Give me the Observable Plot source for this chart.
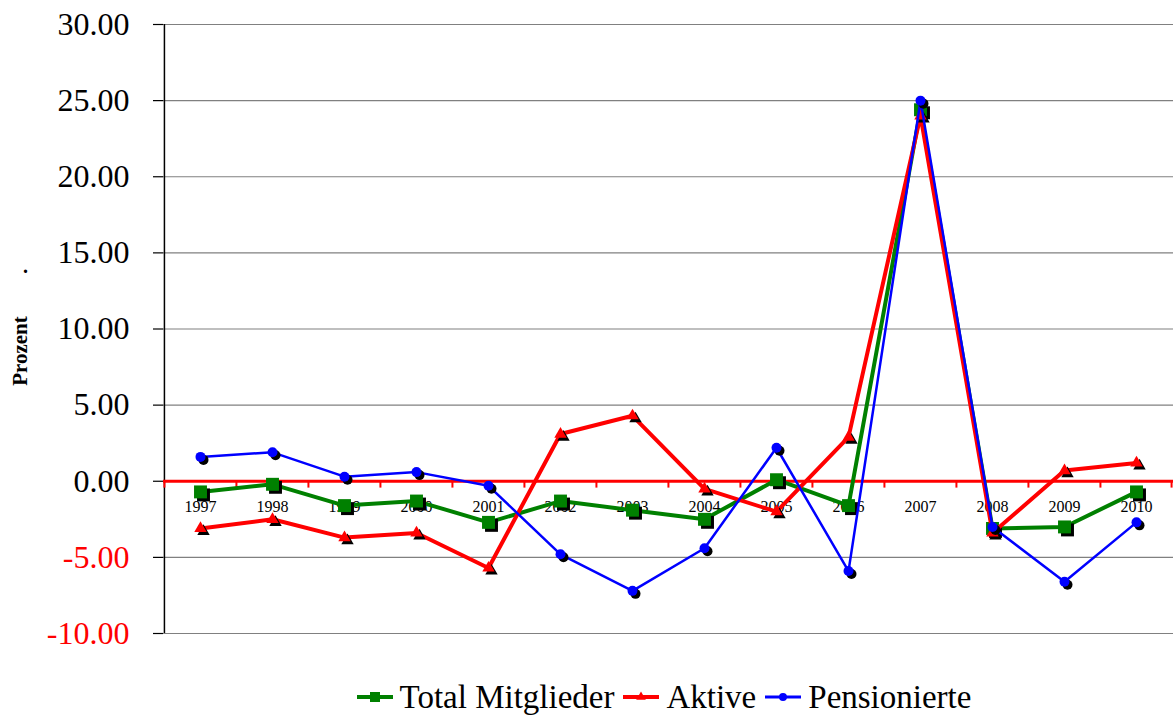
<!DOCTYPE html>
<html>
<head>
<meta charset="utf-8">
<script src="https://cdn.jsdelivr.net/npm/d3@7"></script>
<script src="https://cdn.jsdelivr.net/npm/@observablehq/plot@0.6"></script>
<style>
  html, body { margin: 0; padding: 0; background: #fff; }
  body { width: 1173px; height: 720px; overflow: hidden; font-family: "Liberation Serif", "Times New Roman", Times, serif; }
  #legend { display: flex; justify-content: center; align-items: center; height: 60px; font-size: 33px; color: #000; padding-left: 162px; padding-top: 14px; box-sizing: border-box; width: 1173px; }
  #legend .item { display: flex; align-items: center; margin-right: 8px; }
  #legend svg { margin-right: 6px; }
</style>
</head>
<body>
<div id="chart"></div>
<div id="legend"></div>
<script>
const years = ["1997","1998","1999","2000","2001","2002","2003","2004","2005","2006","2007","2008","2009","2010"];
const total = [-0.7, -0.2, -1.6, -1.3, -2.7, -1.3, -1.9, -2.5, 0.1, -1.6, 24.4, -3.1, -3.0, -0.7];
const aktive = [-3.1, -2.5, -3.7, -3.4, -5.7, 3.1, 4.3, -0.5, -2.0, 2.9, 24.0, -3.4, 0.7, 1.2];
const pensionierte = [1.6, 1.9, 0.3, 0.6, -0.3, -4.8, -7.2, -4.4, 2.2, -5.9, 25.0, -3.0, -6.6, -2.7];
const yTicks = [-10, -5, 0, 5, 10, 15, 20, 25, 30];
const seriesNames = ["Total Mitglieder", "Aktive", "Pensionierte"];
const seriesColors = ["#008000", "#ff0000", "#0000ff"];

const rows = years.map((year, i) => ({year, total: total[i], aktive: aktive[i], pensionierte: pensionierte[i]}));

const W = 1173, ML = 163, MR = 0;
const bw = (W - ML - MR) / years.length;
const FONT = "'Liberation Serif', 'Times New Roman', Times, serif";

function seriesMarks(key, color, width, symbol, r) {
  return [
    Plot.line(rows, {x: "year", y: key, stroke: color, strokeWidth: width, strokeLinejoin: "miter"}),
    Plot.dot(rows, {x: "year", y: key, symbol, r, fill: "black", stroke: "none", dx: 3, dy: 3}),
    Plot.dot(rows, {x: "year", y: key, symbol, r, fill: color, stroke: "none"})
  ];
}

const chart = Plot.plot({
  width: W,
  height: 660,
  marginLeft: ML,
  marginRight: MR,
  marginTop: 24,
  marginBottom: 27,
  style: {fontFamily: FONT, background: "white", color: "black"},
  x: {type: "band", domain: years, padding: 0, axis: null},
  y: {domain: [-10, 30], axis: null},
  marks: [
    Plot.gridY(yTicks.filter(d => d !== 0), {stroke: "#808080", strokeOpacity: 1, strokeWidth: 1.2}),
    Plot.axisY({ticks: yTicks, tickSize: 10, tickFormat: () => "", label: null, stroke: "black", strokeWidth: 1.2}),
    Plot.ruleX([years[0]], {x: d => d, dx: -bw / 2, stroke: "black", strokeWidth: 1.5}),
    Plot.text(yTicks, {y: d => d, frameAnchor: "left", dx: -34, textAnchor: "end", text: d => d.toFixed(2), fontSize: 32, fill: d => d < 0 ? "#ff0000" : "black"}),
    Plot.text(["Prozent"], {frameAnchor: "left", textAnchor: "middle", dx: -143, dy: 22, rotate: -90, fontSize: 21, fontWeight: "bold", fill: "black"}),
    Plot.text(["."], {frameAnchor: "left", textAnchor: "middle", dx: -138, dy: -62, fontSize: 20, fontWeight: "bold", fill: "black"}),
    Plot.ruleY([0], {stroke: "#ff0000", strokeWidth: 3}),
    Plot.ruleX(years, {x: d => d, dx: -bw / 2, y1: 0, y2: -0.45, stroke: "#ff0000", strokeWidth: 2}),
    Plot.ruleX([years[years.length - 1]], {x: d => d, dx: bw / 2 - 1, y1: 0, y2: -0.45, stroke: "#ff0000", strokeWidth: 2}),
    Plot.text(years, {x: d => d, y: d => 0, dy: 26, fontSize: 16, fill: "black"}),
    ...seriesMarks("total", seriesColors[0], 4, "square", 7.3),
    ...seriesMarks("aktive", seriesColors[1], 4, "triangle", 4.6),
    ...seriesMarks("pensionierte", seriesColors[2], 2.5, "circle", 5)
  ]
});
document.getElementById("chart").appendChild(chart);

// legend
const symbols = ["square", "triangle", "circle"];
const legend = d3.select("#legend");
seriesNames.forEach((name, i) => {
  const item = legend.append("div").attr("class", "item");
  const s = item.append("svg").attr("width", 38).attr("height", 20);
  s.append("line").attr("x1", 1).attr("x2", 37).attr("y1", 10).attr("y2", 10)
    .attr("stroke", seriesColors[i]).attr("stroke-width", i === 2 ? 3 : 4);
  const sym = symbols[i] === "square" ? d3.symbolSquare : symbols[i] === "triangle" ? d3.symbolTriangle : d3.symbolCircle;
  const size = i === 0 ? 100 : i === 1 ? 40 : 50;
  s.append("path").attr("d", d3.symbol(sym, size)()).attr("transform", "translate(19,10)").attr("fill", seriesColors[i]);
  item.append("span").text(name);
});
</script>
</body>
</html>
